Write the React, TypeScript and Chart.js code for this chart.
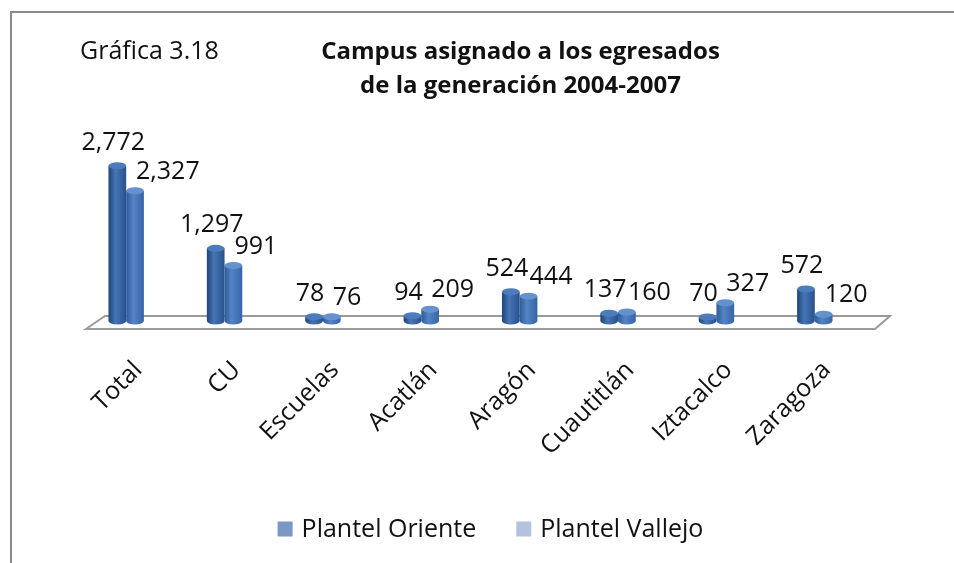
import React, { useEffect, useRef } from "react";
import { Chart, registerables } from "chart.js";
Chart.register(...registerables);

const categories = ["Total", "CU", "Escuelas", "Acatlán", "Aragón", "Cuautitlán", "Iztacalco", "Zaragoza"];
const seriesNames = ["Plantel Oriente", "Plantel Vallejo"];
const orienteValues = [2772, 1297, 78, 94, 524, 137, 70, 572];
const vallejoValues = [2327, 991, 76, 209, 444, 160, 327, 120];
const legendColors = ["#7b97c6", "#b3c2de"];
const titleLines = ["Campus asignado a los egresados", "de la generación 2004-2007"];
const captionText = "Gráfica 3.18";
const yMax = 3000;

const FONT = "'Open Sans', sans-serif";
const bodyStops = [
  ["#1f4477", "#4675b6", "#28518b"],
  ["#2c5b9a", "#5584c6", "#3565a6"],
];
const capColors = ["#4d7cbd", "#6592cf"];

const excelPlugin = {
  id: "excel3d",
  beforeDatasetsDraw(chart: any) {
    const { ctx, chartArea: a } = chart;
    ctx.save();
    ctx.beginPath();
    ctx.moveTo(a.left + 9, a.bottom + 8);
    ctx.lineTo(a.left + 28, a.bottom - 5);
    ctx.lineTo(a.right + 26, a.bottom - 5);
    ctx.lineTo(a.right + 11, a.bottom + 8);
    ctx.closePath();
    ctx.fillStyle = "#ffffff";
    ctx.fill();
    ctx.strokeStyle = "#9a9a9a";
    ctx.lineWidth = 2;
    ctx.stroke();
    ctx.restore();
  },
  afterDatasetsDraw(chart: any) {
    const { ctx } = chart;
    ctx.save();
    chart.data.datasets.forEach((ds: any, di: number) => {
      const meta = chart.getDatasetMeta(di);
      meta.data.forEach((el: any, i: number) => {
        const { x, y, base, width } = el.getProps(["x", "y", "base", "width"], true);
        const rx = width / 2;
        const ry = 3.5;
        const l = x - rx;
        const r = x + rx;
        const g = ctx.createLinearGradient(l, 0, r, 0);
        g.addColorStop(0, bodyStops[di][0]);
        g.addColorStop(0.4, bodyStops[di][1]);
        g.addColorStop(1, bodyStops[di][2]);
        ctx.beginPath();
        ctx.moveTo(l, y);
        ctx.lineTo(l, base);
        ctx.ellipse(x, base, rx, ry, 0, Math.PI, 0, true);
        ctx.lineTo(r, y);
        ctx.closePath();
        ctx.fillStyle = g;
        ctx.fill();
        ctx.beginPath();
        ctx.ellipse(x, y, rx, ry, 0, 0, Math.PI * 2);
        ctx.fillStyle = capColors[di];
        ctx.fill();

        const v = ds.data[i];
        ctx.fillStyle = "#111";
        ctx.font = `25px ${FONT}`;
        ctx.textBaseline = "alphabetic";
        const txt = Number(v).toLocaleString("en-US");
        if (di === 0) {
          ctx.textAlign = "center";
          ctx.fillText(txt, x - 4, y - 16);
        } else {
          ctx.textAlign = "left";
          ctx.fillText(txt, x + 1, y - 12);
        }
      });
    });
    ctx.restore();
  },
  afterDraw(chart: any) {
    const { ctx, chartArea: a } = chart;
    const xs = chart.scales.x;
    ctx.save();
    // category labels
    ctx.font = `25px ${FONT}`;
    ctx.fillStyle = "#111";
    ctx.textAlign = "right";
    ctx.textBaseline = "middle";
    categories.forEach((c, i) => {
      const px = xs.getPixelForValue(i);
      ctx.save();
      ctx.translate(px + 12, a.bottom + 45);
      ctx.rotate(-Math.PI / 4);
      ctx.fillText(c, 0, 0);
      ctx.restore();
    });
    // caption and title
    ctx.textBaseline = "alphabetic";
    ctx.textAlign = "left";
    ctx.font = `25px ${FONT}`;
    ctx.fillText(captionText, 80, 59);
    ctx.textAlign = "center";
    ctx.font = `bold 24px ${FONT}`;
    const cx = (a.left + a.right) / 2 + 50;
    titleLines.forEach((t, i) => ctx.fillText(t, cx, 59 + i * 34));
    // legend
    ctx.font = `25px ${FONT}`;
    const box = 15;
    const gap = 9;
    const itemGap = 40;
    const widths = seriesNames.map((n) => box + gap + ctx.measureText(n).width);
    const total = widths.reduce((s, w) => s + w, 0) + itemGap * (seriesNames.length - 1);
    let lx = (a.left + a.right) / 2 + 20 - total / 2;
    const ly = 529;
    ctx.textAlign = "left";
    ctx.textBaseline = "middle";
    seriesNames.forEach((n, i) => {
      ctx.fillStyle = legendColors[i];
      ctx.fillRect(lx, ly - box / 2, box, box);
      ctx.fillStyle = "#111";
      ctx.fillText(n, lx + box + gap, ly + 1);
      lx += widths[i] + itemGap;
    });
    ctx.restore();
  },
};

export default function App() {
  const ref = useRef<HTMLCanvasElement | null>(null);
  useEffect(() => {
    if (!ref.current) return;
    const chart = new Chart(ref.current, {
      type: "bar",
      data: {
        labels: categories,
        datasets: [
          { label: seriesNames[0], data: orienteValues, backgroundColor: "rgba(0,0,0,0)" },
          { label: seriesNames[1], data: vallejoValues, backgroundColor: "rgba(0,0,0,0)" },
        ],
      },
      options: {
        animation: false,
        responsive: false,
        maintainAspectRatio: false,
        events: [],
        layout: { padding: { left: 77, right: 90, top: 153, bottom: 242 } },
        datasets: { bar: { barPercentage: 1, categoryPercentage: 0.36 } },
        plugins: { legend: { display: false }, title: { display: false }, tooltip: { enabled: false } },
        scales: {
          x: { display: false },
          y: { display: false, min: 0, max: yMax },
        },
      },
      plugins: [excelPlugin],
    });
    return () => chart.destroy();
  }, []);
  return (
    <div style={{ position: "fixed", left: 0, top: 0, width: 954, height: 563, overflow: "hidden", background: "#fff" }}>
      <canvas ref={ref} width={954} height={563} style={{ position: "absolute", left: 0, top: 0 }} />
      <div
        style={{
          position: "absolute",
          left: 10,
          top: 11,
          width: 1000,
          height: 600,
          borderLeft: "2px solid #8a8a8a",
          borderTop: "2px solid #8a8a8a",
          pointerEvents: "none",
        }}
      />
    </div>
  );
}
